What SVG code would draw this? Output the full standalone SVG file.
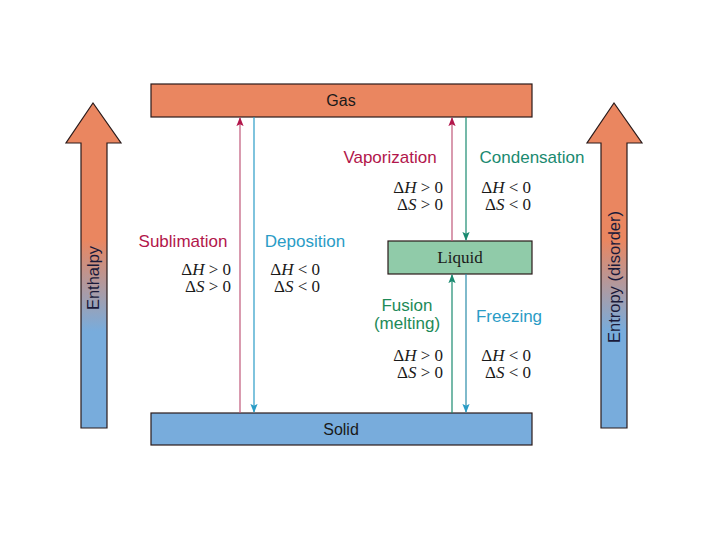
<svg xmlns="http://www.w3.org/2000/svg" width="720" height="540" viewBox="0 0 720 540">
<defs>
<linearGradient id="grad" x1="0" y1="103" x2="0" y2="429" gradientUnits="userSpaceOnUse">
<stop offset="0" stop-color="#EA8660"/>
<stop offset="0.42" stop-color="#EA8660"/>
<stop offset="0.7" stop-color="#78ACDC"/>
<stop offset="1" stop-color="#78ACDC"/>
</linearGradient>
<marker id="mRed" viewBox="0 0 10 10" refX="9" refY="5" markerWidth="9" markerHeight="9" markerUnits="userSpaceOnUse" orient="auto"><path d="M0,1 L10,5 L0,9 L2,5 z" fill="#B2164B"/></marker>
<marker id="mBlue" viewBox="0 0 10 10" refX="9" refY="5" markerWidth="9" markerHeight="9" markerUnits="userSpaceOnUse" orient="auto"><path d="M0,1 L10,5 L0,9 L2,5 z" fill="#2A9CC6"/></marker>
<marker id="mTeal" viewBox="0 0 10 10" refX="9" refY="5" markerWidth="9" markerHeight="9" markerUnits="userSpaceOnUse" orient="auto"><path d="M0,1 L10,5 L0,9 L2,5 z" fill="#1A8A70"/></marker>
</defs>
<style>
.box{stroke:#2a1a1a;stroke-width:1.2}
.lbl{font-family:"Liberation Sans",Arial,sans-serif;font-size:16px;fill:#1a1a1a;text-anchor:middle}
.proc{font-family:"Liberation Sans",Arial,sans-serif;font-size:17px}
.math{font-family:"Liberation Serif","Times New Roman",serif;font-size:17px;fill:#1a1a1a;text-anchor:end}
.it{font-style:italic}
.red{fill:#B2164B}.blue{fill:#2A9CC6}.teal{fill:#1A8A70}.green{fill:#1E8A58}
.big{fill:url(#grad);stroke:#2a1a1a;stroke-width:1.2}
.bigt{font-family:"Liberation Sans",Arial,sans-serif;font-size:16.5px;fill:#1a1a3a;text-anchor:middle}
</style>

<g id="enthalpy">
<path class="big" d="M81,428 L81,143 L66,143 L93,103 L121,143 L107,143 L107,428 Z"/>
<text class="bigt" transform="translate(99,278) rotate(-90)">Enthalpy</text>
</g>
<g id="entropy">
<path class="big" d="M601,428 L601,143 L587,143 L614,103 L642,143 L627,143 L627,428 Z"/>
<text class="bigt" transform="translate(620,277) rotate(-90)">Entropy (disorder)</text>
</g>

<g id="gas">
<rect class="box" x="151" y="84" width="381" height="33" fill="#EA8660"/>
<text class="lbl" x="341" y="106">Gas</text>
</g>
<g id="solid">
<rect class="box" x="151" y="413" width="381" height="32" fill="#78ACDC"/>
<text class="lbl" x="341" y="435">Solid</text>
</g>
<g id="liquid">
<rect class="box" x="388" y="241" width="144" height="33" fill="#90CBA9"/>
<text x="460" y="263" style="font-family:'Liberation Serif','Times New Roman',serif;font-size:17px;fill:#1a1a1a;text-anchor:middle">Liquid</text>
</g>

<g id="connectors" fill="none" stroke-width="1.2">
<line x1="240" y1="413" x2="240" y2="118" stroke="#C0587A" marker-end="url(#mRed)"/>
<line x1="254" y1="117" x2="254" y2="412" stroke="#2A9CC6" marker-end="url(#mBlue)"/>
<line x1="452" y1="241" x2="452" y2="118" stroke="#C0587A" marker-end="url(#mRed)"/>
<line x1="466" y1="117" x2="466" y2="240" stroke="#1A8A70" marker-end="url(#mTeal)"/>
<line x1="452" y1="413" x2="452" y2="275" stroke="#1A8A70" marker-end="url(#mTeal)"/>
<line x1="466" y1="274" x2="466" y2="412" stroke="#2A8CA8" marker-end="url(#mBlue)"/>
</g>

<g id="sublimation-labels">
<text class="proc red" x="183" y="247" text-anchor="middle">Sublimation</text>
<text class="math" x="231" y="275">Δ<tspan class="it">H</tspan> &gt; 0</text>
<text class="math" x="231" y="292">Δ<tspan class="it">S</tspan> &gt; 0</text>
</g>
<g id="deposition-labels">
<text class="proc blue" x="305" y="247" text-anchor="middle">Deposition</text>
<text class="math" x="320" y="275">Δ<tspan class="it">H</tspan> &lt; 0</text>
<text class="math" x="320" y="292">Δ<tspan class="it">S</tspan> &lt; 0</text>
</g>
<g id="vaporization-labels">
<text class="proc red" x="390" y="163" text-anchor="middle">Vaporization</text>
<text class="math" x="443" y="193">Δ<tspan class="it">H</tspan> &gt; 0</text>
<text class="math" x="443" y="210">Δ<tspan class="it">S</tspan> &gt; 0</text>
</g>
<g id="condensation-labels">
<text class="proc teal" x="532" y="163" text-anchor="middle">Condensation</text>
<text class="math" x="531" y="193">Δ<tspan class="it">H</tspan> &lt; 0</text>
<text class="math" x="531" y="210">Δ<tspan class="it">S</tspan> &lt; 0</text>
</g>
<g id="fusion-labels">
<text class="proc green" x="407" y="311" text-anchor="middle">Fusion</text>
<text class="proc green" x="407" y="329" text-anchor="middle">(melting)</text>
<text class="math" x="443" y="361">Δ<tspan class="it">H</tspan> &gt; 0</text>
<text class="math" x="443" y="378">Δ<tspan class="it">S</tspan> &gt; 0</text>
</g>
<g id="freezing-labels">
<text class="proc blue" x="509" y="322" text-anchor="middle">Freezing</text>
<text class="math" x="531" y="361">Δ<tspan class="it">H</tspan> &lt; 0</text>
<text class="math" x="531" y="378">Δ<tspan class="it">S</tspan> &lt; 0</text>
</g>
</svg>
